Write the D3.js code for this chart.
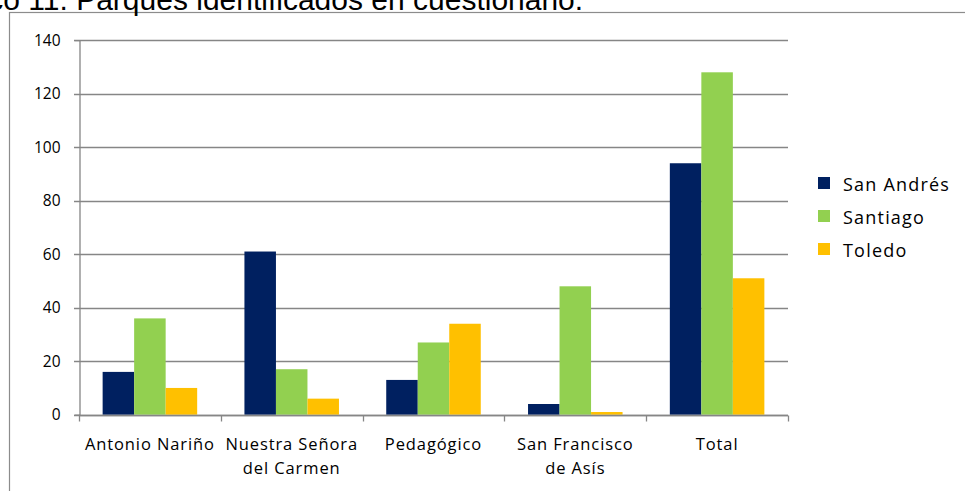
<!DOCTYPE html>
<html>
<head>
<meta charset="utf-8">
<script src="https://cdn.jsdelivr.net/npm/d3@7"></script>
<style>
  html,body{margin:0;padding:0;background:#fff;overflow:hidden;}
  svg{display:block;}
  .lbl{font-family:"Open Sans","Noto Sans",sans-serif;fill:#000;}
</style>
</head>
<body>
<div id="chart"></div>
<script>
// data
var categories=[["Antonio Nariño"],["Nuestra Señora","del Carmen"],["Pedagógico"],["San Francisco","de Asís"],["Total"]];
var seriesNames=["San Andrés","Santiago","Toledo"];
var sanAndres=[16,61,13,4,94];
var santiago=[36,17,27,48,128];
var toledo=[10,6,34,1,51];
var yTicks=[0,20,40,60,80,100,120,140];
var colors=["#002060","#92D050","#FFC000"];
var titlePrefix="Gráfico ";
var titleRest="11. Parques identificados en cuestionario.";

var W=965,H=491;
var svg=d3.select("#chart").append("svg").attr("width",W).attr("height",H);

// outer chart frame (runs off the right and bottom edges)
svg.append("rect").attr("x",9.5).attr("y",12.5).attr("width",1000).attr("height",600)
    .attr("fill","none").attr("stroke","#8c8c8c").attr("stroke-width",1.2);

// title, cut by the top edge as in the reference; "11." starts near x=18
var tt=svg.append("text").attr("y",9.5).style("font-family","'Liberation Sans',Arial,sans-serif")
    .style("font-size","30px").attr("fill","#000").text(titlePrefix);
var pw=tt.node().getComputedTextLength();
tt.text(titlePrefix+titleRest).attr("x",20-pw);

var m={left:79,right:788,top:40.2,bottom:414.7};
var keys=categories.map(function(c){return c.join(" ");});
var x0=d3.scaleBand().domain(keys).range([m.left,m.right]).padding(0);
var x1=d3.scaleBand().domain(seriesNames).range([0,x0.bandwidth()]).paddingInner(0).paddingOuter(0.75);
var y=d3.scaleLinear().domain([0,140]).range([m.bottom,m.top]);

var rows=keys.map(function(k,i){return {key:k,vals:[sanAndres[i],santiago[i],toledo[i]]};});

// gridlines
svg.append("g").selectAll("line").data(yTicks).enter().append("line")
    .attr("x1",m.left-5).attr("x2",m.right).attr("y1",function(d){return Math.round(y(d))+0.5;}).attr("y2",function(d){return Math.round(y(d))+0.5;})
    .attr("stroke","#868686").attr("stroke-width",1.3);

// bars
var grp=svg.append("g").selectAll("g").data(rows).enter().append("g")
    .attr("transform",function(d){return "translate("+x0(d.key)+",0)";});
grp.selectAll("rect").data(function(d){return d.vals.map(function(v,j){return {s:seriesNames[j],v:v,j:j};});})
    .enter().append("rect")
    .attr("x",function(d){return x1(d.s);}).attr("width",x1.bandwidth())
    .attr("y",function(d){return y(d.v);}).attr("height",function(d){return y(0)-y(d.v);})
    .attr("fill",function(d){return colors[d.j];});

// y axis
var ya=svg.append("g").attr("transform","translate("+(m.left+0.5)+",0)")
    .call(d3.axisLeft(y).tickValues(yTicks).tickSize(5).tickPadding(14));
ya.select(".domain").attr("stroke","#868686").attr("stroke-width",1.3);
ya.selectAll(".tick line").remove();
ya.selectAll("text").attr("class","lbl").style("font-size","15.5px").attr("font-family",null);

// x axis
var bx=Math.round(y(0))+0.5;
svg.append("line").attr("x1",m.left).attr("x2",m.right).attr("y1",bx).attr("y2",bx).attr("stroke","#868686").attr("stroke-width",1.3);
var bounds=keys.map(function(k){return x0(k);}).concat([m.right]);
svg.append("g").selectAll("line").data(bounds).enter().append("line")
    .attr("x1",function(d){return Math.round(d)+0.5;}).attr("x2",function(d){return Math.round(d)+0.5;})
    .attr("y1",bx).attr("y2",bx+6).attr("stroke","#868686").attr("stroke-width",1.3);
var xl=svg.append("g").selectAll("text").data(categories).enter().append("text").attr("class","lbl")
    .attr("text-anchor","middle").style("font-size","16.5px").style("letter-spacing","0.9px")
    .attr("x",function(d,i){return x0(keys[i])+x0.bandwidth()/2;}).attr("y",450);
xl.selectAll("tspan").data(function(d){return d;}).enter().append("tspan")
    .attr("x",function(){return d3.select(this.parentNode).attr("x");})
    .attr("dy",function(d,i){return i?24:0;}).text(function(d){return d;});

// legend
var lg=svg.append("g").selectAll("g").data(seriesNames).enter().append("g")
    .attr("transform",function(d,i){return "translate(818,"+(177+i*33)+")";});
lg.append("rect").attr("width",12).attr("height",12).attr("fill",function(d,i){return colors[i];});
lg.append("text").attr("class","lbl").attr("x",25).attr("y",13.5).style("font-size","18px").style("letter-spacing","1.2px").text(function(d){return d;});
</script>
</body>
</html>
